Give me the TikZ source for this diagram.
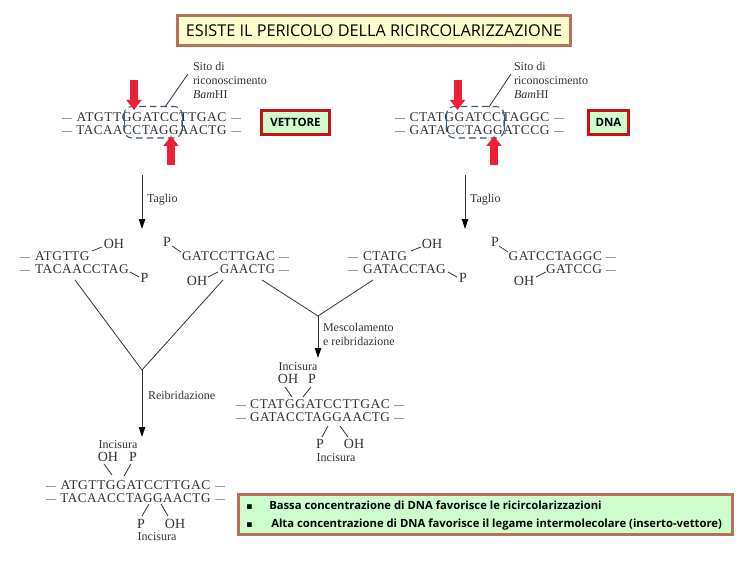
\documentclass[tikz,border=0pt]{standalone}
\usepackage{fontspec}
\usepackage{graphicx}
\usetikzlibrary{arrows.meta}
\setmainfont{Liberation Serif}
\newfontfamily\seqf[LetterSpace=4]{Liberation Serif}
\newfontfamily\boxf{Open Sans}
\newfontfamily\symf{DejaVu Sans}
\definecolor{brick}{HTML}{B8705A}
\definecolor{dred}{HTML}{C01418}
\definecolor{pgreen}{HTML}{CCFFCC}
\definecolor{pyellow}{HTML}{FFFFCC}
\definecolor{ink}{HTML}{333333}
\definecolor{arrred}{HTML}{EE2038}
\definecolor{dashblue}{HTML}{3A5878}
\newcommand{\dashmark}{{\fontsize{7.5}{9}\selectfont —}}
\newcommand{\ld}{\dashmark\kern3.75pt }
\newcommand{\rd}{\kern3pt\dashmark}
% full strand: outer width, letters width, letters
\newcommand{\strand}[3]{\hbox to #1{\dashmark\hfil\resizebox{#2}{\height}{#3}\hfil\dashmark}}
\newcommand{\fit}[2]{\resizebox{#1}{\height}{#2}}
\tikzset{
  seq/.style={anchor=base west,inner sep=0pt,outer sep=0pt,text=ink,font=\seqf\fontsize{10}{12}\selectfont},
  seqr/.style={seq,anchor=base east},
  lab/.style={anchor=base west,inner sep=0pt,outer sep=0pt,text=ink,font=\fontsize{9}{11}\selectfont},
  chem/.style={anchor=center,inner sep=0pt,outer sep=0pt,text=ink,font=\fontsize{10.5}{12}\selectfont},
  inc/.style={anchor=center,inner sep=0pt,outer sep=0pt,text=ink,font=\fontsize{9}{11}\selectfont},
  thin link/.style={draw=ink,line width=0.6pt},
  flow/.style={draw=ink,line width=0.75pt,-{Triangle[length=7.5pt,width=4.8pt,color=black]}},
  cut/.style={draw=arrred,line width=6pt,-{Triangle[length=7.5pt,width=11pt,color=arrred]}},
  site/.style={draw=dashblue,line width=0.8pt,dash pattern=on 5pt off 3pt,rounded corners=6pt},
  siteside/.style={draw=dashblue,line width=0.6pt},
  titlebox/.style={draw=brick,fill=pyellow,line width=2.25pt,inner sep=0pt,text=black,font=\boxf\fontsize{12.2}{14}\selectfont},
  tagbox/.style={draw=dred,fill=pgreen,line width=2.25pt,inner sep=0pt,text=black,font=\boxf\bfseries\fontsize{8.6}{10}\selectfont},
  notebox/.style={draw=brick,fill=pgreen,line width=2.25pt,inner sep=0pt},
  note/.style={anchor=base west,inner sep=0pt,text=black,font=\boxf\bfseries\fontsize{8.45}{10}\selectfont},
  notemark/.style={anchor=base west,inner sep=0pt,text=black,font=\symf\fontsize{7}{10}\selectfont},
}
\begin{document}
\begin{tikzpicture}[x=0.75pt,y=-0.75pt]
\useasboundingbox (0,0) rectangle (748,570);
\fill[white] (0,0) rectangle (748,570);

% title
\node[titlebox,minimum width=393*0.75pt,minimum height=30*0.75pt] (title) at (374,30.5) {ESISTE IL PERICOLO DELLA RICIRCOLARIZZAZIONE};

% --- top-left: vector
\node[seq] (v1) at (62,122) {\strand{134.25pt}{112.5pt}{ATGTTGGATCCTTGAC}};
\node[seq] (v2) at (62,135) {\strand{134.25pt}{112.5pt}{TACAACCTAGGAACTG}};
\draw[site] (124,106.5) rectangle (182,138);
\draw[siteside] (124,114) -- (124,131);
\draw[siteside] (182,114) -- (182,131);
\coordinate (vs1) at (165,107);
\coordinate (vs2) at (188,74);
\draw[thin link] (vs1) -- (vs2);
\node[lab] (vsa) at (193,71) {Sito di};
\node[lab] (vsb) at (193,85) {riconoscimento};
\node[lab] (vsc) at (193,99) {\textit{Bam}HI};
\coordinate (va1) at (134,80); \coordinate (va2) at (134,110);
\coordinate (va3) at (171,165); \coordinate (va4) at (171,136);
\draw[cut] (va1) -- (va2);
\draw[cut] (va3) -- (va4);
\node[tagbox,minimum width=68*0.75pt,minimum height=24*0.75pt] (vet) at (295.5,122.5) {VETTORE};

% --- top-right: DNA
\node[seq] (d1) at (395,122) {\strand{126.75pt}{105pt}{CTATGGATCCTAGGC}};
\node[seq] (d2) at (395,135) {\strand{126.75pt}{105pt}{GATACCTAGGATCCG}};
\draw[site] (446.5,106.5) rectangle (504,138);
\draw[siteside] (446.5,114) -- (446.5,131);
\draw[siteside] (504,114) -- (504,131);
\coordinate (ds1) at (489,107);
\coordinate (ds2) at (511,74);
\draw[thin link] (ds1) -- (ds2);
\node[lab] (dsa) at (514,71) {Sito di};
\node[lab] (dsb) at (514,85) {riconoscimento};
\node[lab] (dsc) at (514,99) {\textit{Bam}HI};
\coordinate (da1) at (457.5,80); \coordinate (da2) at (457.5,110);
\coordinate (da3) at (494,165); \coordinate (da4) at (494,136);
\draw[cut] (da1) -- (da2);
\draw[cut] (da3) -- (da4);
\node[tagbox,minimum width=40*0.75pt,minimum height=24*0.75pt] (dna) at (608.5,122.5) {DNA};

% --- Taglio arrows
\coordinate (t1a) at (142,175); \coordinate (t1b) at (142,229);
\draw[flow] (t1a) -- (t1b);
\node[lab] (t1) at (147,202) {Taglio};
\coordinate (t2a) at (465,175); \coordinate (t2b) at (465,229);
\draw[flow] (t2a) -- (t2b);
\node[lab] (t2) at (470,202) {Taglio};

% --- cut fragments, vector
\node[seq] (f1) at (20,260) {\ld ATGTTG};
\node[seq] (f2) at (20,273) {\ld TACAACCTAG};
\node[chem] (f1oh) at (114,244) {OH};
\node[chem] (f1p) at (144.5,278) {P};
\draw[thin link] (92,251) -- (102,247);
\draw[thin link] (130,272) -- (139,277);
\node[seqr] (f3) at (289,260) {GATCCTTGAC\rd};
\node[seqr] (f4) at (289,273) {\fit{41.25pt}{GAACTG}\rd};
\node[chem] (f3p) at (167,242) {P};
\node[chem] (f4oh) at (197,281) {OH};
\draw[thin link] (172,246) -- (181,252);
\draw[thin link] (208,277) -- (218,272);

% --- cut fragments, DNA
\node[seq] (g1) at (348,260) {\ld CTATG};
\node[seq] (g2) at (348,273) {\ld GATACCTAG};
\node[chem] (g1oh) at (432,244) {OH};
\node[chem] (g1p) at (463,278) {P};
\draw[thin link] (411,251) -- (421,247);
\draw[thin link] (448,272) -- (457,277);
\node[seqr] (g3) at (616,260) {GATCCTAGGC\rd};
\node[seqr] (g4) at (616,273) {\fit{42pt}{GATCCG}\rd};
\node[chem] (g3p) at (495,242) {P};
\node[chem] (g4oh) at (524,281) {OH};
\draw[thin link] (499,246) -- (508,252);
\draw[thin link] (536,277) -- (546,272);

% --- merging Y, left
\coordinate (y1l) at (75,280); \coordinate (y1r) at (223,280);
\coordinate (y1) at (142,370); \coordinate (y1e) at (142,437);
\draw[thin link] (y1l) -- (y1) -- (y1r);
\draw[flow] (y1) -- (y1e);
\node[lab] (rei) at (148,399) {Reibridazione};

% --- merging Y, middle
\coordinate (y2l) at (262,280); \coordinate (y2r) at (373,280);
\coordinate (y2) at (318,316); \coordinate (y2e) at (318,358);
\draw[thin link] (y2l) -- (y2) -- (y2r);
\draw[flow] (y2) -- (y2e);
\node[lab] (mes1) at (323,331) {Mescolamento};
\node[lab] (mes2) at (323,345) {e reibridazione};

% --- middle product
\node[inc] (mi1) at (298,367) {Incisura};
\node[chem] (moh) at (288,379) {OH};
\node[chem] (mp) at (312,379) {P};
\draw[thin link] (285,387) -- (292,397);
\draw[thin link] (311,387) -- (303,397);
\node[seq] (m1) at (236,408) {\strand{126pt}{105pt}{CTATGGATCCTTGAC}};
\node[seq] (m2) at (236,421) {\strand{126pt}{105pt}{GATACCTAGGAACTG}};
\draw[thin link] (328,426) -- (322,437);
\draw[thin link] (340,426) -- (348,437);
\node[chem] (mp2) at (320,444) {P};
\node[chem] (moh2) at (354,444) {OH};
\node[inc] (mi2) at (336,458) {Incisura};

% --- bottom product
\node[inc] (bi1) at (118,445) {Incisura};
\node[chem] (boh) at (108,457) {OH};
\node[chem] (bp) at (133,457) {P};
\draw[thin link] (104,464) -- (112,475);
\draw[thin link] (131,464) -- (124,476);
\node[seq] (b1) at (46,489) {\strand{134.25pt}{112.5pt}{ATGTTGGATCCTTGAC}};
\node[seq] (b2) at (46,502) {\strand{134.25pt}{112.5pt}{TACAACCTAGGAACTG}};
\draw[thin link] (149,504) -- (142,516);
\draw[thin link] (161,504) -- (168,516);
\node[chem] (bp2) at (141,524) {P};
\node[chem] (boh2) at (175,524) {OH};
\node[inc] (bi2) at (157,537) {Incisura};

% --- note box
\node[notebox,minimum width=494*0.75pt,minimum height=40*0.75pt] (nb) at (485.5,514.5) {};
\node[notemark] (nb1) at (246,509) {▪};
\node[note] (nt1) at (269,509) {Bassa concentrazione di DNA favorisce le ricircolarizzazioni};
\node[notemark] (nb2) at (246,527) {▪};
\node[note] (nt2) at (271,527) {Alta concentrazione di DNA favorisce il legame intermolecolare (inserto-vettore)};
\end{tikzpicture}
\end{document}
